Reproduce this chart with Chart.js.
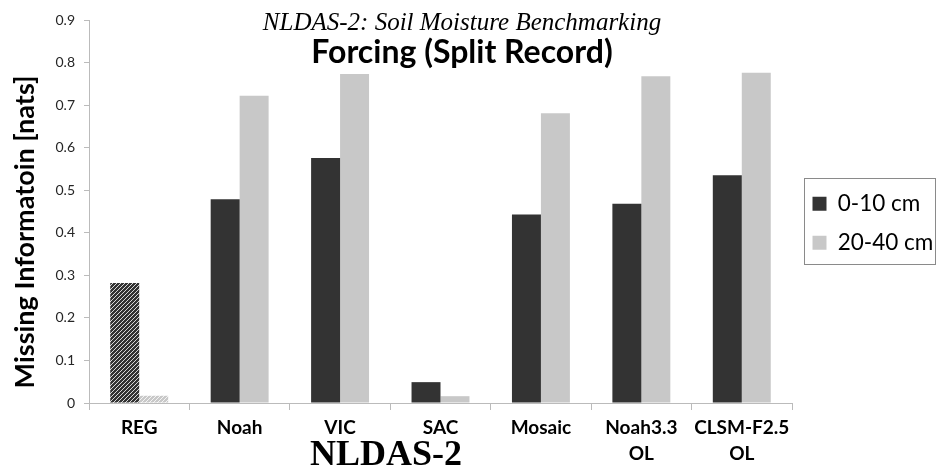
<!DOCTYPE html>
<html lang="en">
<head>
    <meta charset="UTF-8">
    <title>NLDAS-2: Soil Moisture Benchmarking</title>
    <script src="https://cdn.jsdelivr.net/npm/chart.js"></script>
    <style>
        html, body {
            margin: 0;
            padding: 0;
            background: #fff;
        }
        .wrap {
            position: relative;
            width: 938px;
            height: 471px;
        }
    </style>
</head>
<body>
    <div class="wrap">
        <canvas id="chart" width="938" height="471"></canvas>
    </div>

    <script>
        const categories = ['REG', 'Noah', 'VIC', 'SAC', 'Mosaic', ['Noah3.3', 'OL'], ['CLSM-F2.5', 'OL']];
        const shallow = [0.282, 0.479, 0.576, 0.049, 0.443, 0.468, 0.535];   // 0-10 cm
        const deep = [0.017, 0.722, 0.773, 0.016, 0.681, 0.768, 0.776];      // 20-40 cm
        const yTicks = [0, 0.1, 0.2, 0.3, 0.4, 0.5, 0.6, 0.7, 0.8, 0.9];

        const dark = '#333333';
        const light = '#c8c8c8';

        // diagonal hatch used for the REG bars
        function hatch(base, stripe) {
            const c = document.createElement('canvas');
            c.width = 4;
            c.height = 4;
            const g = c.getContext('2d');
            g.fillStyle = base;
            g.fillRect(0, 0, 4, 4);
            g.strokeStyle = stripe;
            g.lineWidth = 1;
            g.beginPath();
            g.moveTo(0, 4);
            g.lineTo(4, 0);
            g.moveTo(-1, 1);
            g.lineTo(1, -1);
            g.moveTo(3, 5);
            g.lineTo(5, 3);
            g.stroke();
            return g.createPattern(c, 'repeat');
        }

        const ctx = document.getElementById('chart').getContext('2d');
        const darkFill = shallow.map((v, i) => i === 0 ? hatch(dark, '#d8d8d8') : dark);
        const lightFill = deep.map((v, i) => i === 0 ? hatch(light, '#f4f4f4') : light);

        // titles and axis captions sit where the original slide put them
        const captions = {
            id: 'captions',
            afterDraw(chart) {
                const c = chart.ctx;
                c.save();
                c.fillStyle = '#000';
                c.textAlign = 'center';
                c.textBaseline = 'alphabetic';
                c.font = 'italic 25px "Liberation Serif"';
                c.fillText('NLDAS-2: Soil Moisture Benchmarking', 462, 30);
                c.font = 'bold 32px Lato';
                c.fillText('Forcing (Split Record)', 462, 63);
                c.font = 'bold 36px "Liberation Serif"';
                c.fillText('NLDAS-2', 386, 465);
                c.translate(25, 232);
                c.rotate(-Math.PI / 2);
                c.textBaseline = 'middle';
                c.font = 'bold 27px Lato';
                c.fillText('Missing Informatoin [nats]', 0, 0);
                c.restore();
            }
        };

        // move the legend into its framed box on the right
        const legendBox = {
            id: 'legendBox',
            afterLayout(chart) {
                const l = chart.legend;
                l.left = 796;
                l.right = 938;
                l.top = 176;
                l.bottom = 471;
            },
            afterDraw(chart) {
                const c = chart.ctx;
                c.save();
                c.strokeStyle = '#8a8a8a';
                c.lineWidth = 1;
                c.strokeRect(804.5, 178.5, 131, 86);
                c.restore();
            }
        };

        new Chart(ctx, {
            type: 'bar',
            data: {
                labels: categories,
                datasets: [{
                    label: '0-10 cm',
                    data: shallow,
                    backgroundColor: darkFill,
                    borderWidth: 0
                }, {
                    label: '20-40 cm',
                    data: deep,
                    backgroundColor: lightFill,
                    borderWidth: 0
                }]
            },
            options: {
                responsive: false,
                animation: false,
                events: [],
                layout: {
                    padding: { top: 20, left: 0, right: 0, bottom: 0 }
                },
                datasets: {
                    bar: {
                        categoryPercentage: 0.577,
                        barPercentage: 1.0
                    }
                },
                plugins: {
                    tooltip: { enabled: false },
                    legend: {
                        position: 'right',
                        align: 'start',
                        maxWidth: 146,
                        labels: {
                            color: '#000',
                            font: { family: 'Lato', size: 22.5 },
                            boxWidth: 14,
                            boxHeight: 14,
                            padding: 16.5,
                            generateLabels(chart) {
                                return chart.data.datasets.map((d, i) => ({
                                    text: d.label,
                                    fillStyle: i === 0 ? dark : light,
                                    strokeStyle: i === 0 ? dark : light,
                                    lineWidth: 0,
                                    datasetIndex: i
                                }));
                            }
                        }
                    }
                },
                scales: {
                    x: {
                        afterFit(scale) { scale.height = 68; },
                        grid: {
                            display: true,
                            drawOnChartArea: false,
                            offset: true,
                            color: '#bbbbbb',
                            tickLength: 7
                        },
                        border: { color: '#bbbbbb' },
                        ticks: {
                            color: '#000',
                            font: { family: 'Lato', size: 19, weight: 'bold', lineHeight: 1.35 },
                            maxRotation: 0,
                            autoSkip: false,
                            padding: 5
                        }
                    },
                    y: {
                        min: 0,
                        max: 0.9,
                        afterFit(scale) { scale.width = 89; },
                        afterBuildTicks(scale) {
                            scale.ticks = yTicks.map(v => ({ value: v }));
                        },
                        grid: {
                            display: true,
                            drawOnChartArea: false,
                            color: '#bbbbbb',
                            tickLength: 5
                        },
                        border: { color: '#bbbbbb' },
                        ticks: {
                            color: '#262626',
                            font: { family: 'Lato', size: 14 },
                            padding: 9,
                            callback: v => v === 0 ? '0' : v.toFixed(1)
                        }
                    }
                }
            },
            plugins: [captions, legendBox]
        });
    </script>
</body>
</html>
